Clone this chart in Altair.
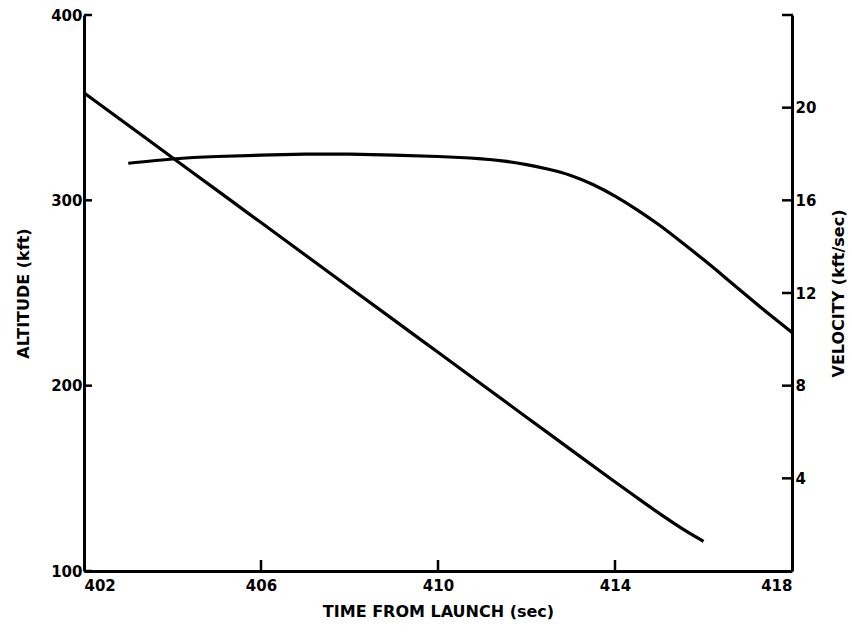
import altair as alt
import pandas as pd

# ---- data ----
time_alt = [402, 403, 404, 405, 406, 407, 408, 409, 410, 411, 412, 413, 414, 414.5, 415, 415.5, 416]
altitude = [358, 340.5, 323, 305.5, 288, 270.5, 253, 235.5, 218, 200.5, 183, 165.5, 148, 139.5, 131, 123, 116]

time_vel = [403, 404, 405, 406, 407, 408, 409, 410, 411, 411.5, 412, 412.5, 413, 413.5,
            414, 414.5, 415, 415.5, 416, 416.5, 417, 417.5, 418]
velocity = [17.6, 17.8, 17.9, 17.95, 18.0, 18.0, 17.95, 17.9, 17.8, 17.7, 17.55, 17.35, 17.1, 16.7,
            16.2, 15.6, 14.95, 14.2, 13.45, 12.65, 11.85, 11.05, 10.3]

x_labels = [402, 406, 410, 414, 418]
x_inner_ticks = [406, 410, 414]
alt_ticks = [100, 200, 300, 400]
vel_labels = [4, 8, 12, 16, 20]
vel_ticks = [4, 8, 12, 16, 20, 24]

W, H = 708, 556
FONT = "DejaVu Sans"

alt_df = pd.DataFrame({"t": time_alt, "alt": altitude})
vel_df = pd.DataFrame({"t": time_vel, "vel": velocity})

xscale = alt.Scale(domain=[402, 418], nice=False, zero=False)
alt_scale = alt.Scale(domain=[100, 400], nice=False, zero=False)
vel_scale = alt.Scale(domain=[0, 24], nice=False, zero=False)

x_axis = alt.Axis(values=x_labels, title="TIME FROM LAUNCH (sec)", ticks=False, tickSize=0,
                  labelPadding=7, titleY=40, titleBaseline="middle", format="d")
alt_axis = alt.Axis(values=alt_ticks, title="ALTITUDE (kft)", ticks=False, tickSize=0,
                    labelPadding=2, titleX=-61, titleBaseline="middle", titleAngle=270, format="d")
vel_axis = alt.Axis(values=vel_labels, title="VELOCITY (kft/sec)", orient="right", ticks=False,
                    tickSize=0, labelPadding=3, titleX=46, titleBaseline="middle", titleAngle=270,
                    format="d")

alt_line = alt.Chart(alt_df).mark_line(color="black", strokeWidth=3.2, interpolate="basis").encode(
    x=alt.X("t:Q", scale=xscale, axis=x_axis),
    y=alt.Y("alt:Q", scale=alt_scale, axis=alt_axis),
)
left_ticks = alt.Chart(pd.DataFrame({"alt": alt_ticks})).mark_rule(color="black", strokeWidth=2.5).encode(
    x=alt.value(0), x2=alt.value(8),
    y=alt.Y("alt:Q", scale=alt_scale, axis=alt_axis),
)
bottom_ticks = alt.Chart(pd.DataFrame({"t": x_inner_ticks})).mark_rule(color="black", strokeWidth=2.5).encode(
    x=alt.X("t:Q", scale=xscale, axis=x_axis),
    y=alt.value(H - 11), y2=alt.value(H),
)
left = alt.layer(alt_line, left_ticks, bottom_ticks)

vel_line = alt.Chart(vel_df).mark_line(color="black", strokeWidth=3.2, interpolate="basis").encode(
    x=alt.X("t:Q", scale=xscale, axis=x_axis),
    y=alt.Y("vel:Q", scale=vel_scale, axis=vel_axis),
)
right_ticks = alt.Chart(pd.DataFrame({"vel": vel_ticks})).mark_rule(color="black", strokeWidth=2.5).encode(
    x=alt.value(W - 10), x2=alt.value(W + 1),
    y=alt.Y("vel:Q", scale=vel_scale, axis=vel_axis),
)
right = alt.layer(vel_line, right_ticks)

chart = alt.layer(left, right).resolve_scale(y="independent").properties(
    width=W, height=H,
    autosize=alt.AutoSizeParams(type="none"),
    padding={"left": 84, "top": 15, "right": 60, "bottom": 61},
    background="white",
).configure_view(stroke=None).configure_axis(
    grid=False,
    labelFont=FONT, labelFontWeight="bold", labelFontSize=15, labelColor="black",
    titleFont=FONT, titleFontWeight="bold", titleFontSize=16, titleColor="black",
    domainColor="black", domainWidth=3,
)

chart.save("out.html", embed_options={"renderer": "svg", "actions": False})
